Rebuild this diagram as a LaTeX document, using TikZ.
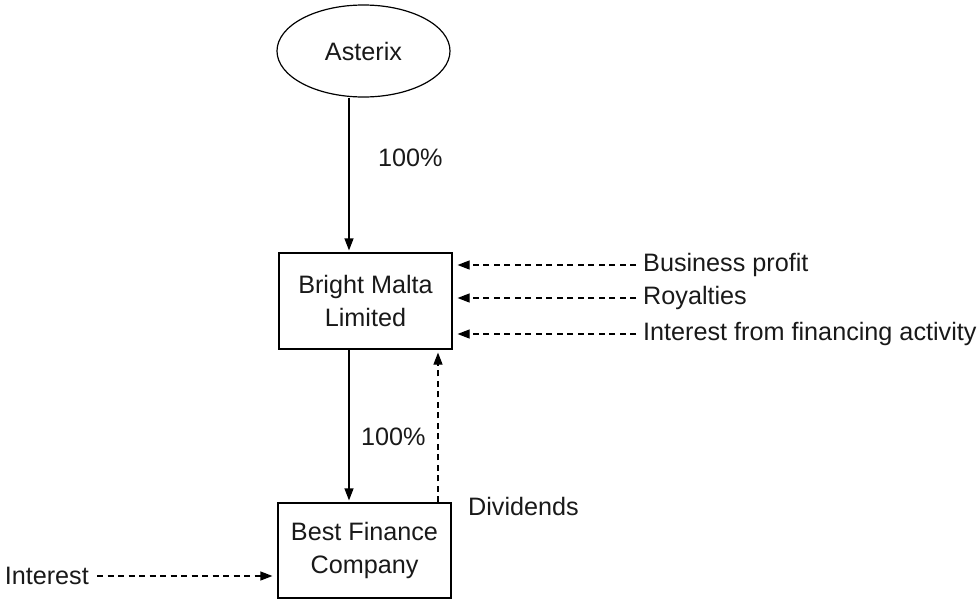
\documentclass[tikz,border=0pt]{standalone}
\usepackage{fontspec}
\setmainfont{Liberation Sans}
\usetikzlibrary{shapes.geometric,arrows.meta}
\begin{document}
\begin{tikzpicture}[x=1pt,y=-1pt,
  every node/.style={font=\fontsize{25.2}{33}\selectfont, text=black!90},
  entity/.style={draw=black, line width=1.2pt, align=center, minimum width=173pt, inner sep=0pt},
  lbl/.style={inner sep=0pt, anchor=west},
  arr/.style={line width=1.2pt, -{Triangle[length=12pt,width=9pt]}, shorten >=2pt},
  darr/.style={line width=1.2pt, dash pattern=on 6pt off 4.5pt, -{Triangle[length=12pt,width=9pt]}}
]
\useasboundingbox (0,0) rectangle (979,600);
\node[entity, ellipse, minimum height=92pt] (ast) at (363.5,51) {Asterix};
\node[entity, minimum height=96pt] (bml) at (365.5,301) {Bright Malta\\Limited};
\node[entity, minimum height=95pt] (bfc) at (364.5,550.5) {Best Finance\\Company};
\coordinate (xa) at (349,0);
\coordinate (xb) at (438,0);
\node[lbl] (p1) at (378,158) {100\%};
\node[lbl] (p2) at (361,437) {100\%};
\node[lbl] (div) at (468,506) {Dividends};
\node[lbl] (bp) at (643,265) {Business profit};
\node[lbl] (roy) at (643,298) {Royalties};
\node[lbl] (ifa) at (643,334) {Interest from financing activity};
\node[inner sep=0pt, anchor=east] (int) at (89,576) {Interest};
\draw[arr] (ast.south -| xa) -- (bml.north -| xa);
\draw[arr] (bml.south -| xa) -- (bfc.north -| xa);
\draw[darr, shorten >=3pt] (bfc.north -| xb) -- (bml.south -| xb);
\draw[darr, shorten >=5pt] ([xshift=-7pt]bp.west) -- (bp.west -| bml.east);
\draw[darr, shorten >=5pt] ([xshift=-7pt]roy.west) -- (roy.west -| bml.east);
\draw[darr, shorten >=5pt] ([xshift=-7pt]ifa.west) -- (ifa.west -| bml.east);
\draw[darr, shorten >=5pt] ([xshift=8pt]int.east) -- (int.east -| bfc.west);
\end{tikzpicture}
\end{document}
